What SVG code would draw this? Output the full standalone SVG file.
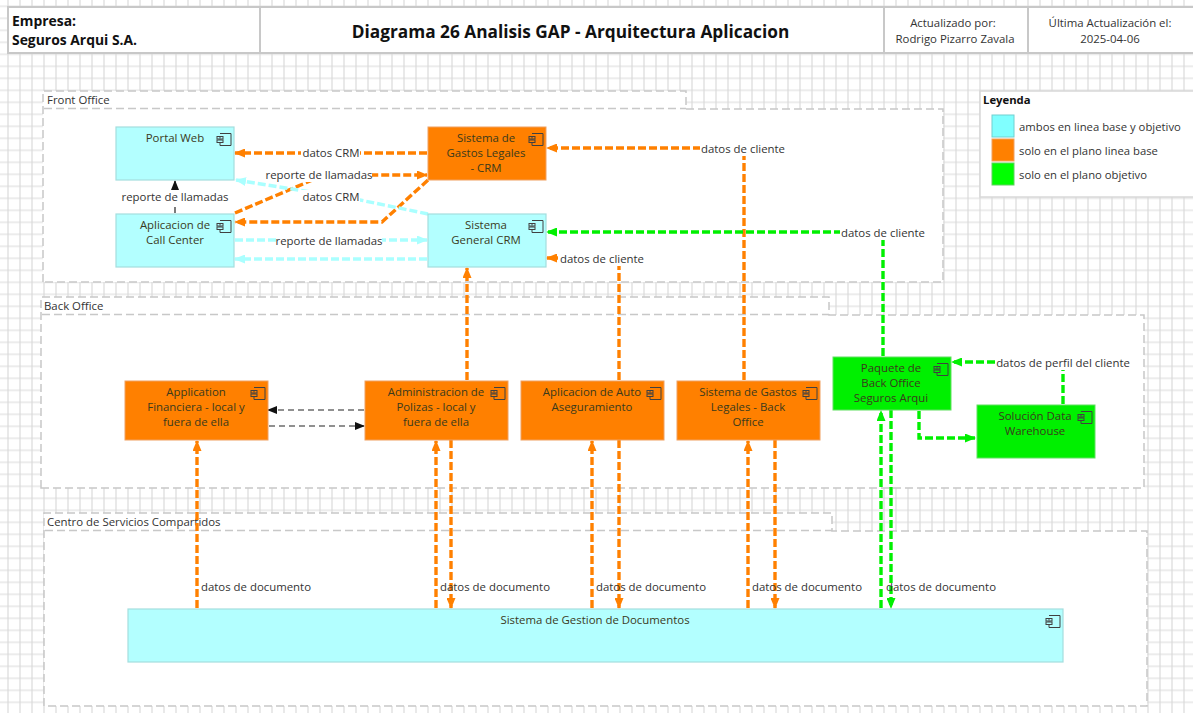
<svg xmlns="http://www.w3.org/2000/svg" width="1193" height="713" viewBox="0 0 1193 713">
<style>
text{font-family:"Open Sans","Noto Sans","Liberation Sans",sans-serif;font-size:11.4px;fill:#333;text-anchor:middle}
.n text{fill:#3a3a1c}
.hd{fill:#fff;stroke:#c8c8c8;stroke-width:2}
.grp{fill:#fff;stroke:#c8c8c8;stroke-width:1.5;stroke-dasharray:8 4}
.b{fill:#b3ffff;stroke:#a4dede;stroke-width:1.2}
.o{fill:#ff8000;stroke:#f0a060;stroke-width:1}
.g{fill:#00f000;stroke:#60e060;stroke-width:1}
.ic{fill:none;stroke:#404040;stroke-width:1}
.lo,.lc,.lg,.lk{fill:none}
.lo{stroke:#ff8000;stroke-width:3.4;stroke-dasharray:8 3}
.lc{stroke:#aaffff;stroke-width:3.4;stroke-dasharray:8 3}
.lg{stroke:#00f000;stroke-width:3.4;stroke-dasharray:8 3}
.lk{stroke:#222;stroke-width:1.2;stroke-dasharray:6 4}
.lb{fill:#fff;stroke:none}
</style>
<defs>
<pattern id="grid" width="12" height="12" patternUnits="userSpaceOnUse" x="7" y="5.300"><path d="M0 1H12M1 0V12" fill="none" stroke="#dadada" stroke-width="1.200"/></pattern>
<marker id="ao" markerWidth="11" markerHeight="9" refX="10" refY="4.500" orient="auto-start-reverse" markerUnits="userSpaceOnUse"><path d="M0 0L11 4.500L0 9z" fill="#ff8000"/></marker>
<marker id="ac" markerWidth="11" markerHeight="9" refX="10" refY="4.500" orient="auto-start-reverse" markerUnits="userSpaceOnUse"><path d="M0 0L11 4.500L0 9z" fill="#aaffff"/></marker>
<marker id="ag" markerWidth="11" markerHeight="9" refX="10" refY="4.500" orient="auto-start-reverse" markerUnits="userSpaceOnUse"><path d="M0 0L11 4.500L0 9z" fill="#00f000"/></marker>
<marker id="ak" markerWidth="10" markerHeight="8" refX="9" refY="4" orient="auto-start-reverse" markerUnits="userSpaceOnUse"><path d="M0 0L10 4L0 8z" fill="#111"/></marker>
<g id="comp"><path class="ic" d="M-8 -5.500H3V6.500H-8V3.500M-8 -2.500V-0.500M-8 1V0.500"/><rect class="ic" x="-11" y="-2.500" width="6" height="2.500"/><rect class="ic" x="-11" y="1" width="6" height="2.500"/></g>
</defs>
<rect width="1193" height="713" fill="#fff"/>
<rect width="1193" height="713" fill="url(#grid)"/>

<g id="header">
<rect class="hd" x="8" y="7" width="252" height="46"/>
<rect class="hd" x="260" y="7" width="624" height="46"/>
<rect class="hd" x="884" y="7" width="144" height="46"/>
<rect class="hd" x="1028" y="7" width="166" height="46"/>
<text x="12" y="26" style="text-anchor:start;font-weight:700;font-size:13.9px;fill:#111">Empresa:</text>
<text x="12" y="45" style="text-anchor:start;font-weight:700;font-size:13.9px;fill:#111">Seguros Arqui S.A.</text>
<text x="570.500" y="38" style="font-weight:700;font-size:17.25px;fill:#111">Diagrama 26 Analisis GAP - Arquitectura Aplicacion</text>
<text x="953" y="27">Actualizado por:</text>
<text x="955" y="43">Rodrigo Pizarro Zavala</text>
<text x="1110" y="27">Última Actualización el:</text>
<text x="1110" y="43">2025-04-06</text>
</g>

<g id="front-office">
<path class="grp" d="M43 282V91H686V109H943V282Z"/>
<path d="M44 108.500H686" fill="none" stroke="#c8c8c8" stroke-width="1.5" stroke-dasharray="8 4"/>
<text x="47" y="104" style="text-anchor:start">Front Office</text>
</g>
<g id="back-office">
<path class="grp" d="M41 488V297H829V315H1144V488Z"/>
<path d="M42 314.500H829" fill="none" stroke="#c8c8c8" stroke-width="1.5" stroke-dasharray="8 4"/>
<text x="44" y="310" style="text-anchor:start">Back Office</text>
</g>
<g id="centro-servicios">
<path class="grp" d="M44 706V513H832V531H1147V706Z"/>
<path d="M45 530.500H832" fill="none" stroke="#c8c8c8" stroke-width="1.500" stroke-dasharray="8 4"/>
<text x="47" y="526" style="text-anchor:start">Centro de Servicios Compartidos</text>
</g>

<g id="leyenda">
<rect x="980" y="91" width="214" height="106" fill="#fff" stroke="#d8d8d8" stroke-width="1.500"/>
<text x="983" y="104" style="text-anchor:start;font-weight:700;font-size:11.300px;fill:#111">Leyenda</text>
<rect x="992" y="115" width="22" height="22" fill="#80ffff" stroke="#70d0d0"/>
<rect x="992" y="139" width="22" height="22" fill="#ff8000" stroke="#f0a060"/>
<rect x="992" y="163" width="22" height="22" fill="#00ff00" stroke="#60d060"/>
<text x="1019" y="131" style="text-anchor:start;font-size:11.300px">ambos en linea base y objetivo</text>
<text x="1019" y="155" style="text-anchor:start;font-size:11.300px">solo en el plano linea base</text>
<text x="1019" y="179" style="text-anchor:start;font-size:11.300px">solo en el plano objetivo</text>
</g>

<g id="connectors">
<path class="lo" marker-end="url(#ao)" d="M427 153H235"/>
<path class="lo" marker-end="url(#ao)" d="M235 213L324 175H427"/>
<path class="lo" marker-end="url(#ao)" d="M428 180L382 222H235"/>
<path class="lc" marker-end="url(#ac)" d="M428 214L360 200L236 180"/>
<path class="lc" marker-end="url(#ac)" d="M235 240H427"/>
<path class="lc" marker-end="url(#ac)" d="M427 259H235"/>
<path class="lk" marker-end="url(#ak)" d="M175 213V181" style="stroke-dasharray:none"/>
<path class="lo" marker-end="url(#ao)" d="M744 380V148H547"/>
<path class="lo" marker-end="url(#ao)" d="M619 380V258H547"/>
<path class="lo" marker-end="url(#ao)" d="M467 380V268"/>
<path class="lg" marker-end="url(#ag)" d="M883 356V232H547"/>
<path class="lg" marker-end="url(#ag)" d="M1063 404V362H952"/>
<path class="lg" marker-end="url(#ag)" d="M919 411V438H975"/>
<path class="lk" marker-end="url(#ak)" d="M364 410H268"/>
<path class="lk" marker-end="url(#ak)" d="M269 426H364"/>
<path class="lo" marker-end="url(#ao)" d="M197 608V441"/>
<path class="lo" marker-end="url(#ao)" d="M436 608V441"/>
<path class="lo" marker-end="url(#ao)" d="M451 440V608"/>
<path class="lo" marker-end="url(#ao)" d="M592 608V441"/>
<path class="lo" marker-end="url(#ao)" d="M619 440V608"/>
<path class="lo" marker-end="url(#ao)" d="M748 608V441"/>
<path class="lo" marker-end="url(#ao)" d="M775 440V608"/>
<path class="lg" marker-end="url(#ag)" d="M881 608V411"/>
<path class="lg" marker-end="url(#ag)" d="M891 410V608"/>
<rect class="lb" x="301" y="146" width="59" height="14"/><text x="331" y="157">datos CRM</text>
<rect class="lb" x="266" y="168" width="106" height="14"/><text x="319" y="179">reporte de llamadas</text>
<rect class="lb" x="301" y="190" width="59" height="14"/><text x="331" y="201">datos CRM</text>
<rect class="lb" x="122" y="190" width="106" height="17"/><text x="175" y="201">reporte de llamadas</text>
<rect class="lb" x="276" y="234" width="106" height="14"/><text x="329" y="245">reporte de llamadas</text>
<rect class="lb" x="700" y="142" width="86" height="14"/><text x="743" y="153">datos de cliente</text>
<rect class="lb" x="558" y="252" width="86" height="14"/><text x="602" y="263">datos de cliente</text>
<rect class="lb" x="840" y="226" width="86" height="14"/><text x="883" y="237">datos de cliente</text>
<rect class="lb" x="996" y="356" width="134" height="14"/><text x="1063" y="367">datos de perfil del cliente</text>
<text x="256" y="591">datos de documento</text>
<text x="495" y="591">datos de documento</text>
<text x="651" y="591">datos de documento</text>
<text x="807" y="591">datos de documento</text>
<text x="941" y="591">datos de documento</text>
</g>

<g id="portal-web" class="n"><rect class="b" x="116" y="127" width="118" height="53"/><text x="175" y="142">Portal Web</text><use href="#comp" x="228" y="139"/></g>
<g id="gastos-crm" class="n"><rect class="o" x="428" y="127" width="118" height="53"/><text x="486" y="142">Sistema de</text><text x="486" y="157">Gastos Legales</text><text x="486" y="172">- CRM</text><use href="#comp" x="540" y="139"/></g>
<g id="call-center" class="n"><rect class="b" x="116" y="214" width="118" height="53"/><text x="175" y="229">Aplicacion de</text><text x="175" y="244">Call Center</text><use href="#comp" x="228" y="226"/></g>
<g id="general-crm" class="n"><rect class="b" x="428" y="214" width="118" height="53"/><text x="486" y="229">Sistema</text><text x="486" y="244">General CRM</text><use href="#comp" x="540" y="226"/></g>
<g id="financiera" class="n"><rect class="o" x="125" y="381" width="143" height="59"/><text x="196" y="396">Application</text><text x="196" y="411">Financiera - local y</text><text x="196" y="426">fuera de ella</text><use href="#comp" x="262" y="393"/></g>
<g id="polizas" class="n"><rect class="o" x="365" y="381" width="143" height="59"/><text x="436" y="396">Administracion de</text><text x="436" y="411">Polizas - local y</text><text x="436" y="426">fuera de ella</text><use href="#comp" x="502" y="393"/></g>
<g id="auto" class="n"><rect class="o" x="521" y="381" width="143" height="59"/><text x="592" y="396">Aplicacion de Auto</text><text x="592" y="411">Aseguramiento</text><use href="#comp" x="658" y="393"/></g>
<g id="gastos-bo" class="n"><rect class="o" x="677" y="381" width="143" height="59"/><text x="748" y="396">Sistema de Gastos</text><text x="748" y="411">Legales - Back</text><text x="748" y="426">Office</text><use href="#comp" x="814" y="393"/></g>
<g id="paquete" class="n"><rect class="g" x="833" y="357" width="118" height="53"/><text x="891" y="372">Paquete de</text><text x="891" y="387">Back Office</text><text x="891" y="402">Seguros Arqui</text><use href="#comp" x="945" y="369"/></g>
<g id="warehouse" class="n"><rect class="g" x="977" y="405" width="118" height="53"/><text x="1035" y="420">Solución Data</text><text x="1035" y="435">Warehouse</text><use href="#comp" x="1089" y="417"/></g>
<g id="gestion" class="n"><rect class="b" x="128" y="609" width="935" height="53"/><text x="595" y="624">Sistema de Gestion de Documentos</text><use href="#comp" x="1057" y="621"/></g>
</svg>
